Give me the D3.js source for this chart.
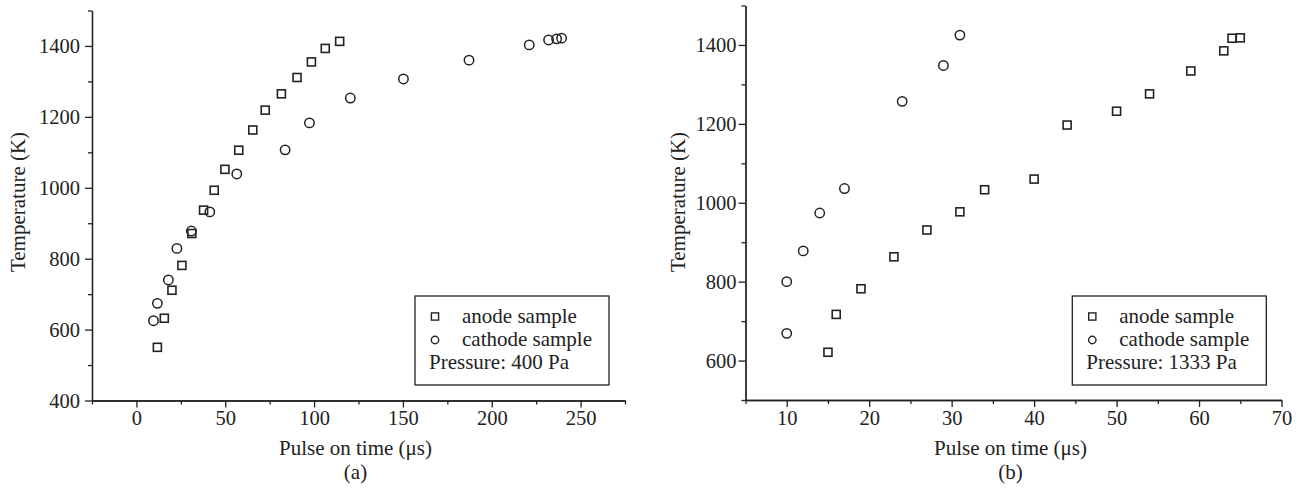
<!DOCTYPE html>
<html>
<head>
<meta charset="utf-8">
<script src="https://cdn.jsdelivr.net/npm/d3@7"></script>
<style>
  body { margin: 0; background: #fff; }
  svg { display: block; font-family: "Liberation Serif", "Times New Roman", serif; }
  .axis path, .axis line { stroke: #222; stroke-width: 1.3; }
  .axis text { fill: #222; font-size: 20.5px; font-family: "Liberation Serif", "Times New Roman", serif; }
</style>
</head>
<body>
<svg id="chart" width="1303" height="488"></svg>
<script>
// (a) 400 Pa
var leftAnode = [[11.8,550],[15.7,632],[20,711],[25.6,781],[31.2,871],[37.8,937],[43.8,993],[49.8,1052],
                 [57.6,1106],[65.5,1163],[72.5,1219],[81.6,1265],[90.4,1311],[98.5,1355],[106.3,1393],[114.4,1413]];
var leftCathode = [[9.6,625],[11.8,674],[18,740],[22.8,829],[30.9,878],[41.3,932],[56.5,1039],[83.7,1107],
                   [97.4,1183],[120.4,1253],[150.3,1307],[187.2,1360],[221.1,1403],[232,1417],[236.5,1420],[239.3,1422]];
var leftXMajor = [0, 50, 100, 150, 200, 250];
var leftXMinor = [-25, 25, 75, 125, 175, 225, 275];
var leftYMajor = [400, 600, 800, 1000, 1200, 1400];
var leftYMinor = [500, 700, 900, 1100, 1300, 1500];

// (b) 1333 Pa
var rightAnode = [[15,621],[16,717],[19,782],[23,863],[27,931],[31,977],[34,1033],[40,1060],
                  [44,1197],[50,1232],[54,1276],[59,1334],[63,1385],[64,1417],[65,1418]];
var rightCathode = [[10,669],[10,800],[12,878],[14,974],[17,1036],[24,1257],[29,1348],[31,1425]];
var rightXMajor = [10, 20, 30, 40, 50, 60, 70];
var rightXMinor = [5, 15, 25, 35, 45, 55, 65];
var rightYMajor = [600, 800, 1000, 1200, 1400];
var rightYMinor = [500, 700, 900, 1100, 1300, 1500];

var legendLabels = ["anode sample", "cathode sample"];

var svg = d3.select("#chart");
var ink = "#222";

function drawPanel(p)
{
  var x = d3.scaleLinear().domain(p.xDomain).range([p.left, p.right]);
  var y = d3.scaleLinear().domain(p.yDomain).range([p.bottom, p.top]);
  var g = svg.append("g");

  // minor ticks first, then the labelled ones
  g.append("g").attr("class", "axis").attr("transform", "translate(0," + p.bottom + ")")
   .call(d3.axisBottom(x).tickValues(p.xMinor).tickSize(4).tickSizeOuter(0).tickFormat(""));
  g.append("g").attr("class", "axis").attr("transform", "translate(0," + p.bottom + ")")
   .call(d3.axisBottom(x).tickValues(p.xMajor).tickSize(7).tickSizeOuter(0).tickPadding(3).tickFormat(d3.format("d")));
  g.append("g").attr("class", "axis").attr("transform", "translate(" + p.left + ",0)")
   .call(d3.axisLeft(y).tickValues(p.yMinor).tickSize(4).tickSizeOuter(0).tickFormat(""));
  g.append("g").attr("class", "axis").attr("transform", "translate(" + p.left + ",0)")
   .call(d3.axisLeft(y).tickValues(p.yMajor).tickSize(7).tickSizeOuter(0).tickPadding(p.yPad).tickFormat(d3.format("d")));

  g.append("text").attr("x", (p.left + p.right) / 2 - 3).attr("y", 455)
   .attr("text-anchor", "middle").attr("font-size", 21).attr("fill", ink)
   .text("Pulse on time (\u03bcs)");
  g.append("text").attr("x", (p.left + p.right) / 2 - 3).attr("y", 479)
   .attr("text-anchor", "middle").attr("font-size", 21).attr("fill", ink)
   .text(p.tag);
  g.append("text").attr("transform", "translate(" + p.titleX + ",202) rotate(-90)")
   .attr("text-anchor", "middle").attr("font-size", 21).attr("fill", ink)
   .text("Temperature (K)");

  g.selectAll(".sq").data(p.anode).enter().append("rect")
   .attr("x", function(d) { return x(d[0]) - 4; })
   .attr("y", function(d) { return y(d[1]) - 4; })
   .attr("width", 8).attr("height", 8)
   .attr("fill", "none").attr("stroke", ink).attr("stroke-width", 1.6);

  g.selectAll(".ci").data(p.cathode).enter().append("circle")
   .attr("cx", function(d) { return x(d[0]); })
   .attr("cy", function(d) { return y(d[1]); })
   .attr("r", 4.7)
   .attr("fill", "none").attr("stroke", ink).attr("stroke-width", 1.5);

  // legend
  var L = p.legend;
  g.append("rect").attr("x", L.x).attr("y", 296).attr("width", L.w).attr("height", 89)
   .attr("fill", "#fff").attr("stroke", ink).attr("stroke-width", 1.3);
  g.append("rect").attr("x", L.x + 20 - 3.6).attr("y", 316.5 - 3.6).attr("width", 7.2).attr("height", 7.2)
   .attr("fill", "none").attr("stroke", ink).attr("stroke-width", 1.4);
  g.append("circle").attr("cx", L.x + 20).attr("cy", 340).attr("r", 3.7)
   .attr("fill", "none").attr("stroke", ink).attr("stroke-width", 1.4);
  g.selectAll(".lg").data(legendLabels).enter().append("text")
   .attr("x", L.x + 47).attr("y", function(d, i) { return 322.7 + i * 23.3; })
   .attr("font-size", 21).attr("fill", ink).text(function(d) { return d; });
  g.append("text").attr("x", L.x + 14).attr("y", 369.3)
   .attr("font-size", 21).attr("fill", ink).text(p.pressure);
}

drawPanel({
  xDomain: [-25, 275], yDomain: [400, 1500],
  left: 92, right: 625, top: 10.5, bottom: 400.5,
  xMajor: leftXMajor, xMinor: leftXMinor, yMajor: leftYMajor, yMinor: leftYMinor,
  yPad: 5, titleX: 25, anode: leftAnode, cathode: leftCathode, tag: "(a)",
  pressure: "Pressure: 400 Pa", legend: {x: 415, w: 194}
});

drawPanel({
  xDomain: [5, 70], yDomain: [500, 1500],
  left: 745.5, right: 1281.5, top: 5.5, bottom: 400,
  xMajor: rightXMajor, xMinor: rightXMinor, yMajor: rightYMajor, yMinor: rightYMinor,
  yPad: 2, titleX: 685, anode: rightAnode, cathode: rightCathode, tag: "(b)",
  pressure: "Pressure: 1333 Pa", legend: {x: 1072.3, w: 194}
});
</script>
</body>
</html>
